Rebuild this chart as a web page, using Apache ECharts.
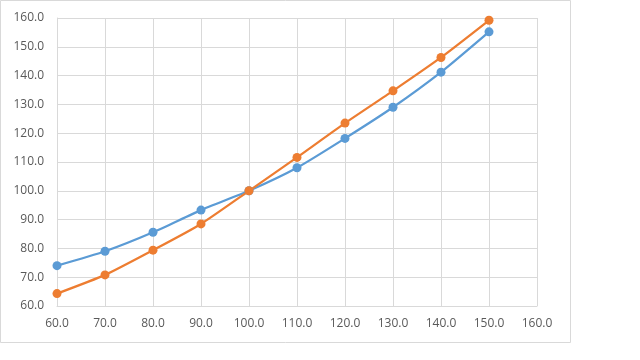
<!DOCTYPE html>
<html>
<head>
<meta charset="utf-8">
<script src="https://cdn.jsdelivr.net/npm/echarts@6/dist/echarts.min.js"></script>
<style>html,body{margin:0;padding:0;background:#fff;}#c{width:640px;height:360px;}</style>
</head>
<body>
<div id="c"></div>
<script>
var xValues = [60, 70, 80, 90, 100, 110, 120, 130, 140, 150];
var blueValues = [74.0, 79.0, 85.6, 93.3, 100.0, 108.0, 118.2, 129.0, 141.2, 155.2];
var orangeValues = [64.3, 70.8, 79.4, 88.5, 100.0, 111.6, 123.5, 134.7, 146.3, 159.2];

function pairs(ys){ return xValues.map(function(x,i){ return [x, ys[i]]; }); }

var chart = echarts.init(document.getElementById('c'), null, {renderer:'canvas'});
var labelStyle = {color:'#595959', fontSize:12, fontFamily:'"Open Sans", "Liberation Sans", sans-serif', formatter:function(v){return v.toFixed(1);}};
chart.setOption({
  animation:false,
  backgroundColor:'#fff',
  graphic:[{type:'rect', shape:{x:0.5,y:0.5,width:570,height:342}, style:{fill:'none', stroke:'#D9D9D9', lineWidth:1}, silent:true}],
  grid:{left:57, right:103, top:18, bottom:54, containLabel:false},
  xAxis:{type:'value', min:60, max:160, interval:10,
    axisLine:{show:true, lineStyle:{color:'#D9D9D9', width:1}},
    axisTick:{show:false},
    splitLine:{show:true, lineStyle:{color:'#D9D9D9', width:1}},
    axisLabel:Object.assign({margin:12}, labelStyle)},
  yAxis:{type:'value', min:60, max:160, interval:10,
    axisLine:{show:true, lineStyle:{color:'#D9D9D9', width:1}},
    axisTick:{show:false},
    splitLine:{show:true, lineStyle:{color:'#D9D9D9', width:1}},
    axisLabel:Object.assign({margin:13}, labelStyle)},
  series:[
    {type:'line', data:pairs(blueValues), smooth:0.2, symbol:'circle', symbolSize:9,
     lineStyle:{color:'#5B9BD5', width:2.25}, itemStyle:{color:'#5B9BD5'}},
    {type:'line', data:pairs(orangeValues), smooth:0.2, symbol:'circle', symbolSize:9,
     lineStyle:{color:'#ED7D31', width:2.25}, itemStyle:{color:'#ED7D31'}}
  ]
});
</script>
</body>
</html>
